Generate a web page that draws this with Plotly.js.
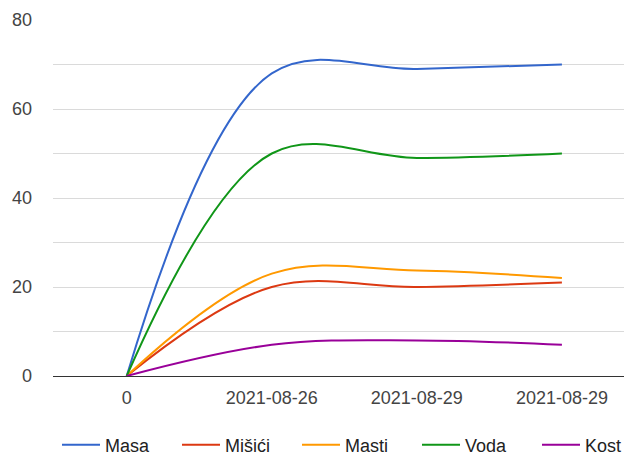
<!DOCTYPE html>
<html>
<head>
<meta charset="utf-8">
<script src="https://cdn.plot.ly/plotly-3.0.1.min.js"></script>
<style>html,body{margin:0;padding:0;background:#fff;}#chart{width:624px;height:457px;}</style>
</head>
<body>
<div id="chart"></div>
<script>
const categories = ["0", "2021-08-26", "2021-08-29", "2021-08-29"];
const masa   = [0, 68, 69, 70];
const misici = [0, 20, 20, 21];
const masti  = [0, 23, 23.7, 22];
const voda   = [0, 50, 49, 50];
const kost   = [0, 7, 8, 7];
const seriesNames = ["Masa", "Mišići", "Masti", "Voda", "Kost"];
const yTicks = [0, 20, 40, 60, 80];

const colors = ["#3366cc", "#dc3912", "#ff9900", "#109618", "#990099"];
const xIdx = categories.map((_, i) => i);
const allSeries = [masa, misici, masti, voda, kost];

const traces = allSeries.map((vals, k) => ({
  x: xIdx,
  y: vals,
  name: seriesNames[k],
  type: "scatter",
  mode: "lines",
  line: {color: colors[k], width: 2, shape: "spline", smoothing: 1.05},
  hoverinfo: "skip"
}));

const layout = {
  width: 624,
  height: 457,
  margin: {l: 0, r: 0, t: 20, b: 81, autoexpand: false},
  paper_bgcolor: "#fff",
  plot_bgcolor: "#fff",
  font: {family: "Liberation Sans, Arial, sans-serif", size: 18, color: "#444"},
  showlegend: true,
  legend: {
    orientation: "h",
    x: 57 / 624,
    xanchor: "left",
    y: -69 / 356,
    yanchor: "middle",
    font: {size: 18, color: "#222"},
    itemwidth: 38,
    entrywidth: 67,
    entrywidthmode: "pixels",
    bgcolor: "rgba(0,0,0,0)"
  },
  xaxis: {
    domain: [53 / 624, 1],
    range: [-0.508, 3.428],
    tickmode: "array",
    tickvals: xIdx,
    ticktext: categories,
    showgrid: false,
    zeroline: false,
    showline: false,
    ticks: "",
    ticklabelstandoff: 9,
    tickfont: {size: 18, color: "#444"},
    fixedrange: true
  },
  yaxis: {
    range: [0, 80],
    tickmode: "array",
    tickvals: yTicks,
    ticktext: yTicks.map(String),
    showgrid: true,
    gridcolor: "#dadada",
    gridwidth: 1,
    minor: {dtick: 10, tickmode: "linear", tick0: 0, showgrid: true, gridcolor: "#dadada", gridwidth: 1, ticks: ""},
    zeroline: true,
    zerolinecolor: "#333",
    zerolinewidth: 1,
    showline: false,
    ticks: "",
    ticklabelstandoff: 20,
    tickfont: {size: 18, color: "#444"},
    fixedrange: true
  },
  hovermode: false
};

Plotly.newPlot("chart", traces, layout, {staticPlot: true, displayModeBar: false});
</script>
</body>
</html>
